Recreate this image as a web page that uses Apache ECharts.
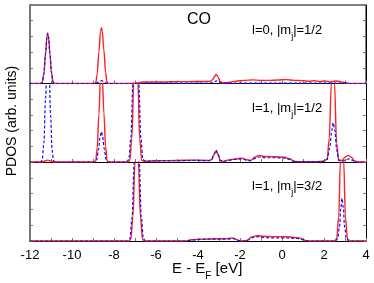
<!DOCTYPE html>
<html>
<head>
<meta charset="utf-8">
<script src="https://cdn.jsdelivr.net/npm/echarts@6/dist/echarts.min.js"></script>
<style>html,body{margin:0;padding:0;background:#fff}#c{width:374px;height:283px}</style>
</head>
<body>
<div id="c"></div>
<script>
// x tick labels (E - E_F, eV)
var xTicks = [-12, -10, -8, -6, -4, -2, 0, 2, 4];
var panelLabels = ['l=0, |m{s|j}|=1/2', 'l=1, |m{s|j}|=1/2', 'l=1, |m{s|j}|=3/2'];

// Panel 1: l=0, |mj|=1/2
var red0 = [[-12,0],[-11.5,0],[-11.42,0.06],[-11.34,0.6],[-11.26,1.9],[-11.19,3.0],[-11.16,3.2],[-11.12,3.0],[-11.05,1.9],[-10.98,0.7],[-10.9,0.08],[-10.82,0],
[-8.95,0],[-8.87,0.06],[-8.8,0.6],[-8.72,2.0],[-8.64,3.3],[-8.6,3.55],[-8.56,3.35],[-8.48,2.1],[-8.4,0.7],[-8.33,0.08],[-8.25,0],
[-7.2,0],[-6.9,0.03],[-6.6,0.1],[-6.2,0.1],[-5.5,0.1],[-5.0,0.12],[-4.5,0.12],[-3.8,0.13],[-3.4,0.14],[-3.3,0.25],[-3.22,0.45],[-3.13,0.57],[-3.04,0.42],[-2.96,0.15],[-2.85,0.04],[-2.6,0.06],[-2.2,0.15],[-1.8,0.2],[-1.4,0.23],[-1.0,0.2],[-0.6,0.2],[-0.2,0.22],[0.2,0.25],[0.6,0.2],[1.0,0.18],[1.3,0.14],[1.55,0.18],[1.8,0.12],[2.05,0.17],[2.3,0.1],[2.55,0.16],[2.8,0.12],[3.0,0.05],[3.2,0.01],[4,0]];
var blue0 = [[-12,0],[-11.5,0],[-11.42,0.06],[-11.34,0.6],[-11.26,1.9],[-11.19,3.0],[-11.16,3.2],[-11.12,3.0],[-11.05,1.9],[-10.98,0.7],[-10.9,0.08],[-10.82,0],
[-8.9,0],[-8.78,0.08],[-8.6,0.18],[-8.42,0.08],[-8.3,0],
[-6.8,0],[-6.5,0.03],[-3.4,0.03],[-3.25,0.1],[-3.13,0.17],[-3.0,0.1],[-2.9,0.02],[-2.5,0.03],[3.0,0.03],[3.2,0],[4,0]];

// Panel 2: l=1, |mj|=1/2
var red1 = [[-12,0],[-11.45,0],[-11.3,0.06],[-11.16,0.12],[-11.0,0.06],[-10.85,0],
[-8.95,0],[-8.87,0.08],[-8.8,0.9],[-8.72,3.0],[-8.64,5.5],[-8.6,6.5],[-8.56,5.5],[-8.48,3.1],[-8.4,1.0],[-8.33,0.08],[-8.25,0],
[-7.35,0],[-7.25,0.1],[-7.15,1.5],[-7.05,5.5],[-6.96,8],[-6.87,5.5],[-6.78,1.5],[-6.68,0.1],[-6.55,0.05],[-6.0,0.08],[-5.0,0.1],[-4.2,0.12],[-3.5,0.1],[-3.35,0.15],[-3.25,0.45],[-3.14,0.7],[-3.04,0.45],[-2.95,0.1],[-2.8,0.03],[-2.6,0.12],[-2.2,0.2],[-1.9,0.25],[-1.7,0.15],[-1.5,0.1],[-1.3,0.3],[-1.1,0.42],[-0.8,0.35],[-0.3,0.33],[0.1,0.3],[0.4,0.2],[0.55,0.05],[0.8,0.02],[1.6,0.02],[2.0,0.05],[2.15,0.2],[2.25,1.5],[2.35,5],[2.42,8],[2.5,5],[2.6,1.2],[2.7,0.15],[2.85,0.1],[3.0,0.3],[3.15,0.42],[3.3,0.3],[3.45,0.08],[3.6,0],[4,0]];
var blue1 = [[-12,0],[-11.5,0],[-11.42,0.1],[-11.34,1.2],[-11.26,4],[-11.18,7],[-11.16,7.5],[-11.1,6.5],[-11.02,3],[-10.95,0.8],[-10.88,0.08],[-10.8,0],
[-8.9,0],[-8.82,0.15],[-8.74,0.8],[-8.66,1.6],[-8.6,1.93],[-8.54,1.6],[-8.46,0.8],[-8.38,0.15],[-8.3,0],
[-7.4,0],[-7.3,0.15],[-7.2,1.5],[-7.1,5],[-6.96,8],[-6.82,5],[-6.72,1.5],[-6.62,0.15],[-6.5,0.05],[-6.0,0.07],[-5.0,0.08],[-4.2,0.1],[-3.5,0.08],[-3.35,0.15],[-3.24,0.5],[-3.14,0.76],[-3.04,0.5],[-2.95,0.12],[-2.8,0.03],[-2.6,0.1],[-2.2,0.17],[-1.9,0.2],[-1.7,0.12],[-1.5,0.08],[-1.3,0.22],[-1.1,0.32],[-0.8,0.27],[-0.3,0.27],[0.1,0.25],[0.4,0.15],[0.55,0.04],[0.8,0.02],[1.6,0.02],[2.0,0.04],[2.15,0.15],[2.27,0.9],[2.37,2.0],[2.44,2.5],[2.52,2.0],[2.6,0.8],[2.7,0.1],[2.9,0.06],[3.05,0.15],[3.2,0.2],[3.35,0.12],[3.45,0.03],[3.6,0],[4,0]];

// Panel 3: l=1, |mj|=3/2
var red2 = [[-12,0],[-7.3,0],[-7.2,0.1],[-7.1,1.5],[-7.0,5],[-6.92,8],[-6.84,5],[-6.74,1.5],[-6.64,0.1],[-6.55,0],
[-4.6,0],[-4.3,0.08],[-3.8,0.12],[-3.2,0.14],[-2.6,0.15],[-2.35,0.2],[-2.2,0.12],[-2.05,0.02],[-1.85,0],[-1.65,0.05],[-1.45,0.25],[-1.2,0.34],[-0.9,0.3],[-0.5,0.28],[0,0.28],[0.4,0.25],[0.8,0.2],[1.0,0.1],[1.15,0.02],[1.3,0],
[2.5,0],[2.6,0.15],[2.7,1.5],[2.78,5],[2.86,8],[2.94,5],[3.02,1.5],[3.12,0.15],[3.22,0],[4,0]];
var blue2 = [[-12,0],[-7.35,0],[-7.24,0.15],[-7.14,1.5],[-7.04,5],[-6.92,8],[-6.8,5],[-6.7,1.5],[-6.6,0.15],[-6.5,0],
[-4.6,0],[-4.3,0.06],[-3.8,0.1],[-3.2,0.12],[-2.6,0.12],[-2.35,0.16],[-2.2,0.1],[-2.05,0.02],[-1.85,0],[-1.65,0.04],[-1.45,0.2],[-1.2,0.28],[-0.9,0.22],[-0.5,0.2],[0,0.2],[0.4,0.18],[0.8,0.15],[1.0,0.08],[1.15,0.02],[1.3,0],
[2.55,0],[2.65,0.15],[2.74,0.9],[2.8,2.1],[2.86,2.7],[2.92,2.1],[2.98,0.9],[3.07,0.15],[3.18,0],[4,0]];

var reds = [red0, red1, red2];
var blues = [blue0, blue1, blue2];

var FONT = 'Liberation Sans, Arial, sans-serif';
var tops = [5, 83.5, 162];
var heights = [78.5, 78.5, 79];

var grids = [], xAxes = [], yAxes = [], series = [], graphics = [];
for (var i = 0; i < 3; i++) {
  grids.push({left: 30, right: 8, top: tops[i], height: heights[i], show: i === 0, borderColor: '#000', borderWidth: 1, backgroundColor: 'transparent'});
  xAxes.push({
    type: 'value', gridIndex: i, min: -12, max: 4, interval: 1,
    axisLine: {show: true, onZero: false, lineStyle: {color: '#000', width: 1}},
    axisTick: {show: true, inside: true, length: 3, lineStyle: {color: '#777'}},
    splitLine: {show: false},
    axisLabel: {show: i === 2, margin: 8, fontSize: 13, fontFamily: FONT, color: '#000',
      formatter: function (v) { return xTicks.indexOf(v) >= 0 ? String(v) : ''; }}
  });
  yAxes.push({
    type: 'value', gridIndex: i, min: 0, max: 5, interval: 1, position: 'left',
    axisLine: {show: true, onZero: false, lineStyle: {color: '#777', width: 2}},
    axisTick: {show: true, inside: true, length: 3, lineStyle: {color: '#777'}},
    splitLine: {show: false}, axisLabel: {show: false}
  });
  yAxes.push({
    type: 'value', gridIndex: i, min: 0, max: 5, interval: 1, position: 'right',
    axisLine: {show: true, onZero: false, lineStyle: {color: '#000', width: 1}},
    axisTick: {show: true, inside: true, length: 3, lineStyle: {color: '#777'}},
    splitLine: {show: false}, axisLabel: {show: false}
  });
  series.push({
    type: 'line', xAxisIndex: i, yAxisIndex: 2 * i, data: reds[i], showSymbol: false,
    smooth: 0.35, smoothMonotone: 'x', clip: true, z: 3,
    lineStyle: {color: '#ff2020', width: 1.4}
  });
  series.push({
    type: 'line', xAxisIndex: i, yAxisIndex: 2 * i, data: blues[i], showSymbol: false,
    smooth: 0.35, smoothMonotone: 'x', clip: true, z: 4,
    lineStyle: {color: '#1010ff', width: 1.2, type: [3, 2]}
  });
}

var rich = {s: {fontSize: 9, fontFamily: FONT, color: '#000', verticalAlign: 'bottom', lineHeight: 12, padding: [0, 0, -4, 0]}};
var labelY = [32, 110, 188];
for (var k = 0; k < 3; k++) {
  graphics.push({type: 'text', left: 252, top: labelY[k] - 8, z: 10,
    style: {text: panelLabels[k], fontSize: 13, fontFamily: FONT, fill: '#000', rich: rich}});
}
graphics.push({type: 'text', left: 187, top: 12, z: 10, style: {text: 'CO', fontSize: 16, fontFamily: FONT, fill: '#000'}});
graphics.push({type: 'text', left: 172, top: 261, z: 10,
  style: {text: 'E - E{s|F} [eV]', fontSize: 15, fontFamily: FONT, fill: '#000',
    rich: {s: {fontSize: 10, fontFamily: FONT, verticalAlign: 'bottom', padding: [0, 0, -5, 0]}}}});
graphics.push({type: 'text', x: 12, y: 121, rotation: Math.PI / 2, z: 10,
  style: {text: 'PDOS (arb. units)', fontSize: 14, fontFamily: FONT, fill: '#000', align: 'center', verticalAlign: 'middle'}});

var chart = echarts.init(document.getElementById('c'), null, {renderer: 'canvas'});
chart.setOption({
  animation: false,
  backgroundColor: '#fff',
  grid: grids, xAxis: xAxes, yAxis: yAxes, series: series, graphic: graphics
});
</script>
</body>
</html>
